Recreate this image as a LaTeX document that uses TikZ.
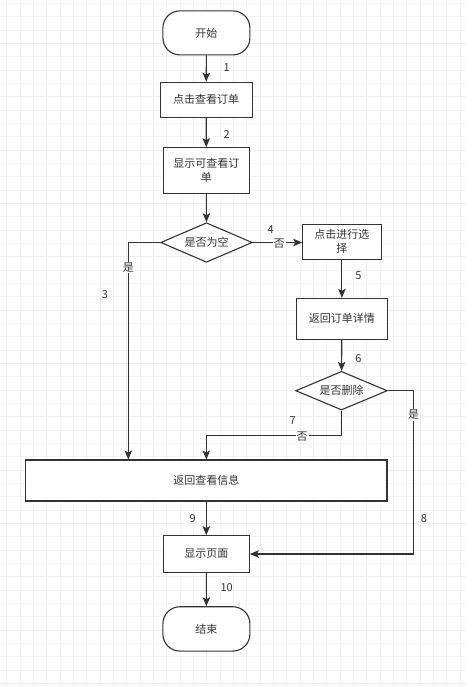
\documentclass[tikz,border=0pt]{standalone}
\usepackage{fontspec}
\setmainfont{Noto Sans CJK SC}
\usetikzlibrary{arrows.meta,shapes.geometric}
\definecolor{ink}{HTML}{333333}
\definecolor{gridminor}{HTML}{F4F4F4}
\definecolor{gridmajor}{HTML}{EEEEEE}
\begin{document}
\begin{tikzpicture}[x=1pt,y=-1pt,
  every node/.style={font=\fontsize{11}{14}\selectfont, text=ink},
  box/.style={draw=ink, line width=1.1pt, fill=white, rectangle, inner sep=1pt, align=center},
  term/.style={box, rounded corners=17pt},
  dec/.style={draw=ink, line width=1.1pt, fill=white, diamond, aspect=2.3, inner sep=0pt},
  arr/.style={draw=ink, line width=1.1pt, -{Stealth[length=9pt,width=7.5pt,inset=2pt]}},
  num/.style={inner sep=0pt},
  yn/.style={fill=white, inner sep=1pt}]
\useasboundingbox (0,0) rectangle (466,686);
\fill[white] (0,0) rectangle (466,686);
\foreach \i in {0,...,35} {
  \draw[gridminor, line width=0.8pt] (6.67+13.333*\i,0) -- (6.67+13.333*\i,686);
}
\foreach \j in {0,...,51} {
  \draw[gridminor, line width=0.8pt] (0,3.33+13.333*\j) -- (466,3.33+13.333*\j);
}
\foreach \i in {0,...,8} {
  \draw[gridmajor, line width=1pt] (46.67+53.333*\i,0) -- (46.67+53.333*\i,686);
}
\foreach \j in {0,...,12} {
  \draw[gridmajor, line width=1pt] (0,43.33+53.333*\j) -- (466,43.33+53.333*\j);
}

\node[term, minimum width=87pt, minimum height=44pt] (start) at (206.4,32.9) {开始};
\node[box, minimum width=92pt, minimum height=35pt] (b1) at (206.2,99.7) {点击查看订单};
\node[box, minimum width=86pt, minimum height=45.6pt] (b2) at (206.3,170.5) {显示可查看订\\单};
\node[dec, minimum width=91.6pt, minimum height=39.6pt] (d1) at (206.5,242.5) {是否为空};
\node[box, minimum width=78.3pt, minimum height=35pt] (b3) at (341.9,241.8) {点击进行选\\择};
\node[box, minimum width=90.3pt, minimum height=40.7pt] (b4) at (341.9,318.7) {返回订单详情};
\node[dec, minimum width=91.6pt, minimum height=38.7pt] (d2) at (341.5,390.7) {是否删除};
\node[box, minimum width=361.3pt, minimum height=41pt] (b5) at (206.3,480.5) {返回查看信息};
\node[box, minimum width=86pt, minimum height=36.6pt] (b6) at (206.3,554) {显示页面};
\node[term, minimum width=87pt, minimum height=44.3pt] (end) at (206.4,628.9) {结束};

\coordinate (cl) at (128.3,0);
\coordinate (cr) at (413.5,0);
\coordinate (cm) at (0,435.3);

\draw[arr] (start) -- (b1);
\draw[arr] (b1) -- (b2);
\draw[arr] (b2) -- (d1);
\draw[arr] (d1.west) -| (b5.north -| cl);
\draw[arr] (d1.east) -- (d1.east -| b3.west);
\draw[arr] (b3.south -| b4.north) -- (b4.north);
\draw[arr] (b4) -- (d2);
\draw[arr] (d2.south) -- (d2.south |- cm) -| (b5.north);
\draw[arr] (d2.east) -| (cr |- b6.east) -- (b6.east);
\draw[arr] (b5) -- (b6);
\draw[arr] (b6) -- (end);

\node[yn] (y1) at (128.3,267.5) {是};
\node[yn] (n1) at (279,243.3) {否};
\node[yn] (n2) at (302,436.5) {否};
\node[yn] (y2) at (413.5,415) {是};

\node[num] (l1) at (226.7,67.3) {1};
\node[num] (l2) at (226.7,135) {2};
\node[num] (l3) at (105,294.5) {3};
\node[num] (l4) at (270.7,229.3) {4};
\node[num] (l5) at (358.3,276) {5};
\node[num] (l6) at (358.3,359) {6};
\node[num] (l7) at (292.7,420.7) {7};
\node[num] (l8) at (424,519) {8};
\node[num] (l9) at (192.7,519) {9};
\node[num] (l10) at (226.7,587.7) {10};
\end{tikzpicture}
\end{document}
